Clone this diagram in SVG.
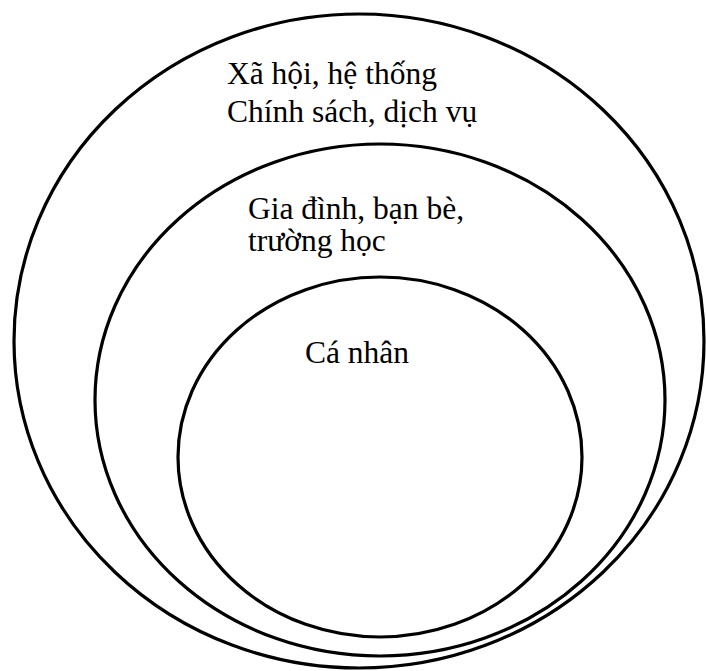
<svg xmlns="http://www.w3.org/2000/svg" width="706" height="671" viewBox="0 0 706 671">
<style>
.ring{fill:none;stroke:#000;stroke-width:3.2}
.lbl{font-family:"Liberation Serif","Times New Roman",serif;font-size:31.5px;fill:#000}
</style>
<rect width="706" height="671" fill="#fff"/>
<g id="society">
<ellipse class="ring" cx="359" cy="341" rx="345" ry="327"/>
<text class="lbl" x="227" y="84">Xã hội, hệ thống</text>
<text class="lbl" x="227" y="122">Chính sách, dịch vụ</text>
</g>
<g id="family">
<ellipse class="ring" cx="380" cy="400" rx="285" ry="256"/>
<text class="lbl" x="248" y="219">Gia đình, bạn bè,</text>
<text class="lbl" x="248" y="251">trường học</text>
</g>
<g id="individual">
<ellipse class="ring" cx="380" cy="457" rx="202" ry="180"/>
<text class="lbl" x="305" y="363">Cá nhân</text>
</g>
<g id="connectors"/>
</svg>
